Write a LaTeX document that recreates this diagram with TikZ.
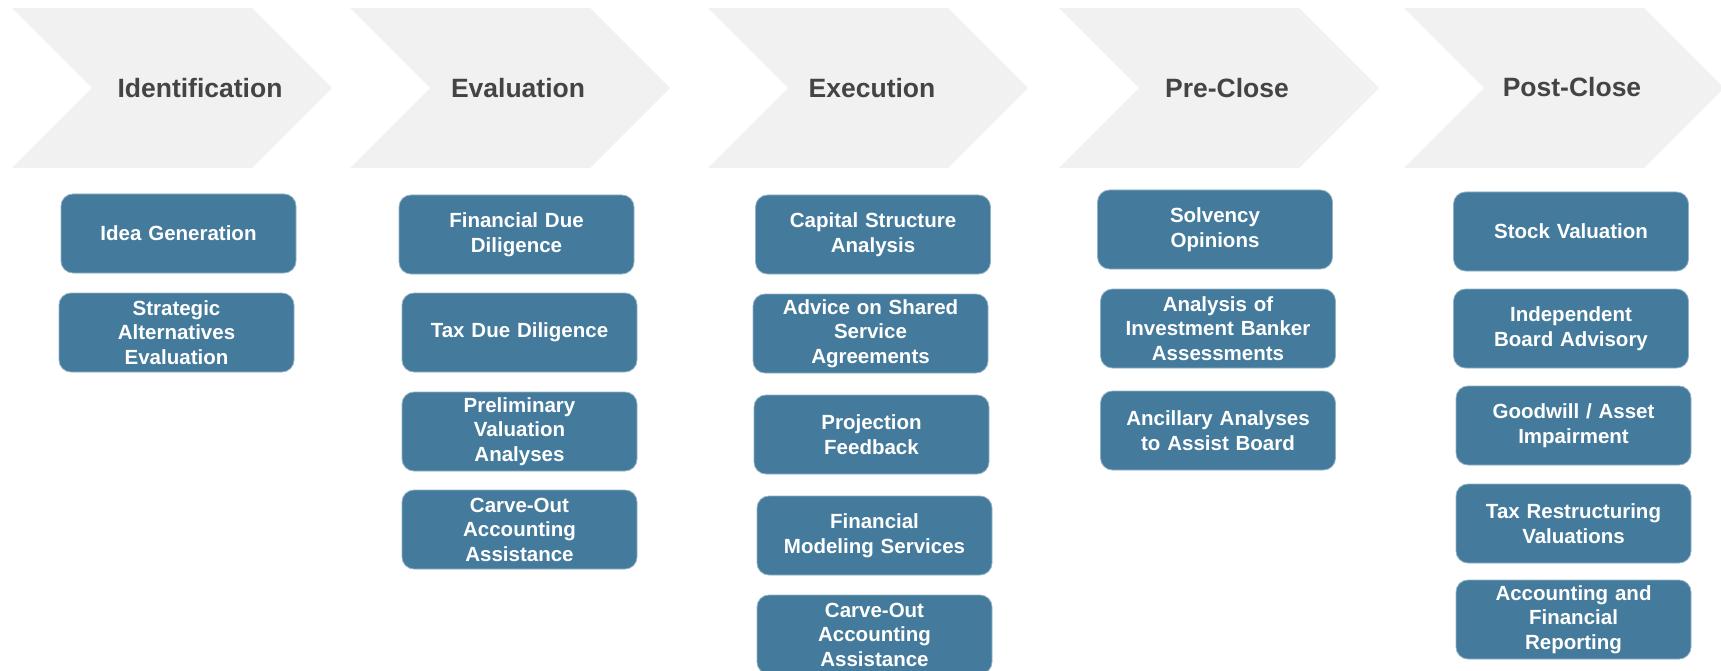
\documentclass[tikz,border=0pt]{standalone}
\usepackage{fontspec}
\setmainfont{Liberation Sans}
\usepackage{xcolor}
\usepackage{tikz}
\usetikzlibrary{positioning}
\definecolor{StageGrey}{HTML}{F1F1F1}
\definecolor{StageText}{HTML}{444444}
\definecolor{SvcBlue}{HTML}{447B9C}
\definecolor{SvcEdge}{HTML}{93B2C6}

\begin{document}
\begin{tikzpicture}[
  x=1pt,y=-1pt,
  chev/.style={fill=StageGrey},
  stage/.style={anchor=base,text=StageText,font=\fontsize{26.5}{30}\selectfont\bfseries},
  svc/.style={fill=SvcBlue,draw=SvcEdge,line width=0.8pt,rounded corners=12pt,
    minimum width=235pt,minimum height=79pt,inner sep=0pt,text width=225pt,
    align=center,text=white,font=\fontsize{20.5}{24.5}\selectfont\bfseries}
]
\useasboundingbox (0,0) rectangle (1721,671);
\begin{scope}
\clip (0,0) rectangle (1721,671);
% stage chevrons
\foreach \x in {12,350,708,1059,1404}
  \fill[chev] (\x,8) -- ++(240,0) -- ++(80,80) -- ++(-80,80) -- ++(-240,0) -- ++(80,-80) -- cycle;
\node[stage] (ident) at (200,97.5) {Identification};
\node[stage] (eval) at (518,97.5) {Evaluation};
\node[stage] (exec) at (872,97.5) {Execution};
\node[stage] (preclose) at (1227,97.5) {Pre-Close};
\node[stage] (postclose) at (1572,96.5) {Post-Close};

% identification
\node[svc] (idea) at (178.5,233.5) {Idea Generation};
\node[svc,below=19.2pt of idea,xshift=-2pt] (strat) {Strategic\\Alternatives\\Evaluation};

% evaluation
\node[svc] (findd) at (516.5,234.5) {Financial Due\\Diligence};
\node[svc,below=18.2pt of findd,xshift=3pt] (taxdd) {Tax Due Diligence};
\node[svc,below=19.2pt of taxdd] (prelim) {Preliminary\\Valuation\\Analyses};
\node[svc,below=18.2pt of prelim] (carveA) {Carve-Out\\Accounting\\Assistance};

% execution
\node[svc] (capital) at (873,234.5) {Capital Structure\\Analysis};
\node[svc,below=19.2pt of capital,xshift=-2.5pt] (advice) {Advice on Shared\\Service\\Agreements};
\node[svc,below=21.2pt of advice,xshift=1pt] (proj) {Projection\\Feedback};
\node[svc,below=21.2pt of proj,xshift=3pt] (model) {Financial\\Modeling Services};
\node[svc,below=19.2pt of model] (carveB) {Carve-Out\\Accounting\\Assistance};

% pre-close
\node[svc] (solv) at (1215,229.5) {Solvency\\Opinions};
\node[svc,below=19.2pt of solv,xshift=3pt] (banker) {Analysis of\\Investment Banker\\Assessments};
\node[svc,below=22.2pt of banker] (ancil) {Ancillary Analyses\\to Assist Board};

% post-close
\node[svc] (stock) at (1571,231.5) {Stock Valuation};
\node[svc,below=17.2pt of stock] (board) {Independent\\Board Advisory};
\node[svc,below=17.2pt of board,xshift=2.5pt] (goodwill) {Goodwill / Asset\\Impairment};
\node[svc,below=18.2pt of goodwill] (taxres) {Tax Restructuring\\Valuations};
\node[svc,below=16.2pt of taxres] (report) {Accounting and\\Financial\\Reporting};
\end{scope}
\end{tikzpicture}
\end{document}
